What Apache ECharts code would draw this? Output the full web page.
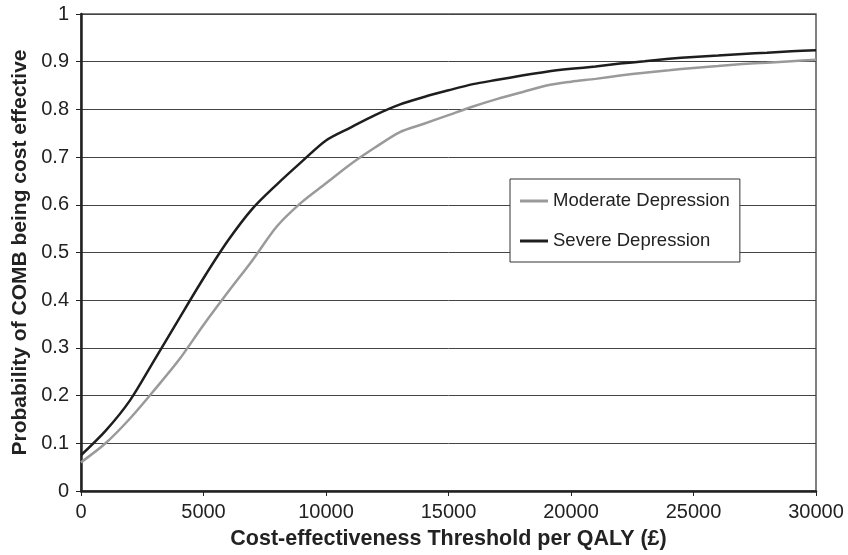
<!DOCTYPE html>
<html>
<head>
<meta charset="utf-8">
<script src="https://cdn.jsdelivr.net/npm/echarts@6/dist/echarts.min.js"></script>
<style>html,body{margin:0;padding:0;background:#fff;}#c{width:848px;height:555px;}</style>
</head>
<body>
<div id="c"></div>
<script>
var thresholds = [0,1000,2000,3000,4000,5000,6000,7000,8000,9000,10000,11000,12000,13000,14000,15000,16000,17000,18000,19000,20000,21000,22000,23000,24000,25000,26000,27000,28000,29000,30000];
var moderate = [0.06,0.10,0.152,0.212,0.275,0.348,0.417,0.484,0.555,0.605,0.645,0.685,0.72,0.752,0.77,0.788,0.806,0.822,0.836,0.85,0.858,0.864,0.871,0.877,0.882,0.887,0.891,0.895,0.898,0.901,0.904];
var severe = [0.075,0.126,0.19,0.275,0.361,0.446,0.525,0.592,0.643,0.69,0.735,0.762,0.788,0.81,0.826,0.84,0.853,0.862,0.871,0.879,0.885,0.89,0.896,0.901,0.906,0.91,0.913,0.916,0.919,0.922,0.924];
var seriesNames = ['Moderate Depression','Severe Depression'];
var xTitle = 'Cost-effectiveness Threshold per QALY (\u00a3)';
var yTitle = 'Probability of COMB being cost effective';

function pairs(xs, ys){ return xs.map(function(x,i){ return [x, ys[i]]; }); }
var FONT = '"Liberation Sans", Arial, sans-serif';
var chart = echarts.init(document.getElementById('c'), null, {renderer:'canvas'});
chart.setOption({
  animation:false,
  backgroundColor:'#fff',
  grid:{left:81,right:32,top:14,bottom:63,show:true,borderColor:'#555',borderWidth:1.5,containLabel:false},
  legend:{
    orient:'vertical', left:510, top:179,
    padding:[12,10,11,10], itemGap:20, itemWidth:28, itemHeight:3,
    icon:'rect',
    backgroundColor:'#fff', borderColor:'#333', borderWidth:1, borderRadius:0,
    textStyle:{fontFamily:FONT,fontSize:18.5,lineHeight:20,color:'#222'},
    data:seriesNames
  },
  xAxis:{
    type:'value', min:0, max:30000, interval:5000,
    name:xTitle, nameLocation:'middle', nameGap:37,
    nameTextStyle:{fontFamily:FONT,fontSize:21.5,fontWeight:'bold',color:'#222'},
    axisLine:{show:true,lineStyle:{color:'#222',width:2.5}},
    axisTick:{show:true,inside:false,length:5,lineStyle:{color:'#222',width:1}},
    axisLabel:{fontFamily:FONT,fontSize:20,color:'#222',margin:11,
      formatter:function(v){ return String(v); }},
    splitLine:{show:false}
  },
  yAxis:{
    type:'value', min:0, max:1, interval:0.1,
    name:yTitle, nameLocation:'middle', nameGap:48, nameRotate:90,
    nameTextStyle:{fontFamily:FONT,fontSize:21,fontWeight:'bold',color:'#222'},
    axisLine:{show:true,lineStyle:{color:'#222',width:2.5}},
    axisTick:{show:true,inside:false,length:5,lineStyle:{color:'#222',width:1}},
    axisLabel:{fontFamily:FONT,fontSize:20,color:'#222',margin:12,
      formatter:function(v){ return String(Math.round(v*10)/10); }},
    splitLine:{show:true,lineStyle:{color:'#444',width:1}}
  },
  series:[
    {name:seriesNames[0],type:'line',data:pairs(thresholds,moderate),symbol:'none',smooth:0.3,
     lineStyle:{color:'#9a9a9a',width:2.5},itemStyle:{color:'#9a9a9a'},z:3},
    {name:seriesNames[1],type:'line',data:pairs(thresholds,severe),symbol:'none',smooth:0.3,
     lineStyle:{color:'#1e1e1e',width:2.5},itemStyle:{color:'#1e1e1e'},z:4}
  ]
});
</script>
</body>
</html>
